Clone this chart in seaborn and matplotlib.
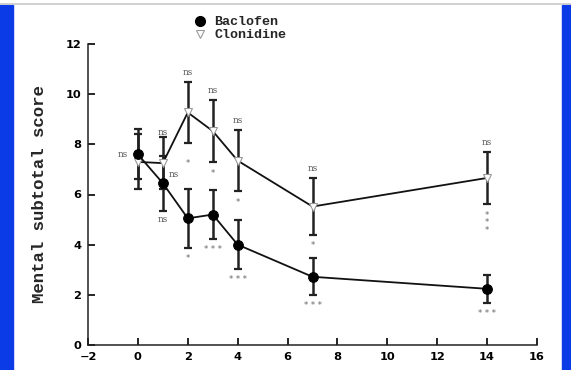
import numpy as np
import pandas as pd
import matplotlib
matplotlib.use("Agg")
import matplotlib.pyplot as plt
from matplotlib.lines import Line2D
from matplotlib.patches import Rectangle
import seaborn as sns

# Values
days = [0, 1, 2, 3, 4, 7, 14]
baclofen_mean = [7.6, 6.45, 5.05, 5.2, 4.0, 2.72, 2.24]
baclofen_err = [1.0, 1.1, 1.17, 0.97, 0.97, 0.74, 0.56]
clonidine_mean = [7.3, 7.25, 9.27, 8.53, 7.35, 5.52, 6.66]
clonidine_err = [1.1, 1.05, 1.2, 1.24, 1.22, 1.12, 1.02]

# significance labels
ns_days = [1, 2, 3, 4, 7, 14]
clon_star_days = [2, 3, 4, 7, 14]
clon_stars = ['*', '*', '*', '*', '*\n*\n*']
bac_star_days = [2, 3, 4, 7, 14]
bac_stars = ['*', '* * *', '* * *', '* * *', '* * *']

x_ticks = [-2, 0, 2, 4, 6, 8, 10, 12, 14, 16]
y_ticks = [0, 2, 4, 6, 8, 10, 12]

df = pd.DataFrame({
    'day': days * 2,
    'score': baclofen_mean + clonidine_mean,
    'err': baclofen_err + clonidine_err,
    'drug': ['Baclofen'] * len(days) + ['Clonidine'] * len(days),
})

sns.set_style('ticks')
plt.rcParams['font.family'] = ['DejaVu Sans']

fig = plt.figure(figsize=(5.71, 3.70), dpi=100)
ax = fig.add_axes([88 / 571, 1 - 345 / 370, 449 / 571, 301 / 370])

# page decoration: blue side bands and thin grey rule at top
fig.patches.append(Rectangle((0, 0), 13 / 571, 1 - 5 / 370, transform=fig.transFigure,
                             color='#0a3be6', zorder=0))
fig.patches.append(Rectangle((562 / 571, 0), 9 / 571, 1 - 5 / 370, transform=fig.transFigure,
                             color='#0a3be6', zorder=0))
fig.lines.append(Line2D([0, 1], [1 - 4 / 370, 1 - 4 / 370], transform=fig.transFigure,
                        color='#c8c8c8', lw=1.2))

clon = df[df['drug'] == 'Clonidine']
bac = df[df['drug'] == 'Baclofen']

for sub in (clon, bac):
    ax.errorbar(sub['day'], sub['score'], yerr=sub['err'], fmt='none', ecolor='#222222',
                elinewidth=1.8, capsize=3, capthick=1.6, zorder=2)

sns.lineplot(data=clon, x='day', y='score', ax=ax, color='#111111', lw=1.3,
             marker='v', markersize=6, markerfacecolor='white', markeredgecolor='#999999',
             markeredgewidth=0.8, zorder=3, legend=False)
sns.lineplot(data=bac, x='day', y='score', ax=ax, color='#111111', lw=1.3,
             marker='o', markersize=7, markerfacecolor='black', markeredgecolor='black',
             zorder=4, legend=False)

ann_kw = dict(textcoords='offset points', ha='center', va='center', color='#555555',
              family='DejaVu Serif', fontsize=6.3)
star_kw = dict(textcoords='offset points', ha='center', va='center', color='#666666',
               fontsize=6, linespacing=0.75)

# ns above clonidine bars
for d in ns_days:
    i = days.index(d)
    off = 3 if d == 1 else 7
    ax.annotate('ns', (d, clonidine_mean[i] + clonidine_err[i]), xytext=(0, off), **ann_kw)
# extra ns labels around days 0 and 1
ax.annotate('ns', (0, baclofen_mean[0]), xytext=(-11, 0), **ann_kw)
ax.annotate('ns', (1, clonidine_mean[1]), xytext=(8, -8), **ann_kw)
ax.annotate('ns', (1, baclofen_mean[1] - baclofen_err[1]), xytext=(0, -6), **ann_kw)

for d, s in zip(clon_star_days, clon_stars):
    i = days.index(d)
    off = -15 if d == 2 else (-14 if '\n' in s else -8)
    ax.annotate(s, (d, clonidine_mean[i] - clonidine_err[i]), xytext=(0, off), **star_kw)
for d, s in zip(bac_star_days, bac_stars):
    i = days.index(d)
    ax.annotate(s, (d, baclofen_mean[i] - baclofen_err[i]), xytext=(0, -7.5), **star_kw)

ax.set_xlim(-2, 16)
ax.set_ylim(0, 12)
ax.set_xticks(x_ticks)
ax.set_yticks(y_ticks)
ax.set_xlabel('')
ax.set_ylabel('Mental subtotal score', family='Liberation Mono', fontweight='bold',
              fontsize=12.5, labelpad=13)
ax.tick_params(direction='in', length=5, width=1.2, labelsize=8.2, pad=5, colors='black')
for lab in ax.get_xticklabels() + ax.get_yticklabels():
    lab.set_fontweight('bold')
sns.despine(ax=ax)
for sp in ('left', 'bottom'):
    ax.spines[sp].set_linewidth(1.1)
    ax.spines[sp].set_color('#222222')

handles = [
    Line2D([], [], ls='none', marker='o', markersize=7, color='black'),
    Line2D([], [], ls='none', marker='v', markersize=6, markerfacecolor='white',
           markeredgecolor='#999999', markeredgewidth=0.8),
]
ax.legend(handles, ['Baclofen', 'Clonidine'], loc='upper left',
          bbox_to_anchor=(193 / 571, 1 - 16 / 370), bbox_transform=fig.transFigure,
          frameon=False, borderpad=0, borderaxespad=0, handlelength=1.0,
          handletextpad=0.6, labelspacing=0.05,
          prop={'family': 'Liberation Mono', 'weight': 'bold', 'size': 9.6})

fig.savefig('out.png', dpi=100, facecolor='white')
